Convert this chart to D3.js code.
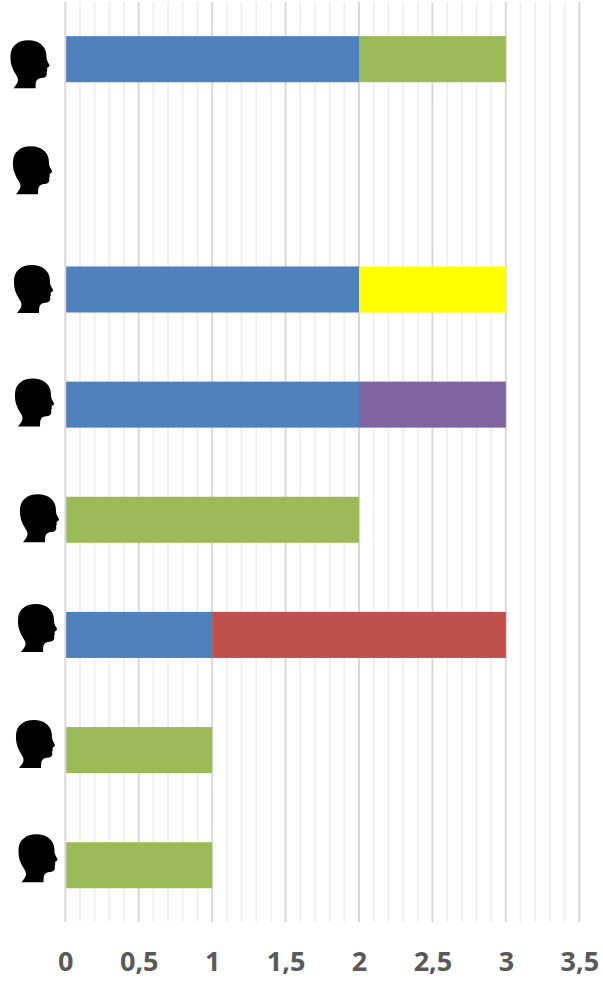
<!DOCTYPE html>
<html>
<head>
<meta charset="utf-8">
<script src="https://cdn.jsdelivr.net/npm/d3@7"></script>
<style>
html,body{margin:0;padding:0;background:#fff;overflow:hidden}
svg{display:block}
</style>
</head>
<body>
<svg id="chart" width="603" height="982"></svg>
<script>
const rows = ["A","B","C","D","E","F","G","H"];
const seriesNames = ["blue","green","yellow","purple","red"];
const blue   = [2,0,2,2,0,1,0,0];
const green  = [1,0,0,0,2,0,1,1];
const yellow = [0,0,1,0,0,0,0,0];
const purple = [0,0,0,1,0,0,0,0];
const red    = [0,0,0,0,0,2,0,0];
const seriesColors = ["#4F81BD","#9BBB59","#FFFF00","#8064A2","#C0504D"];
const majorTicks = [0,0.5,1,1.5,2,2.5,3,3.5];
const minorTicks = d3.range(0,36).map(d=>d/10).filter(d=>Math.round(d*10)%5!==0);
const headOffsetX = [10.5,13,14,15,20,18,16,18.5];
const headOffsetY = [4,-5,-1.5,-3,-2.5,-8,-7,-8];

const table = rows.map((r,i)=>({row:r,blue:blue[i],green:green[i],yellow:yellow[i],purple:purple[i],red:red[i]}));
const svg = d3.select("#chart");
const x = d3.scaleLinear().domain([0,3.5]).range([65.3,579.3]);
const y = d3.scaleBand().domain(rows).range([1.6,922.8]).paddingInner(0.6).paddingOuter(0.3);

const gridTop = 2, gridBottom = 922;
svg.append("g").selectAll("line").data(minorTicks).join("line")
  .attr("x1",d=>x(d)).attr("x2",d=>x(d)).attr("y1",gridTop).attr("y2",gridBottom)
  .attr("stroke","#f0f0f0").attr("stroke-width",2);
svg.append("g").selectAll("line").data(majorTicks).join("line")
  .attr("x1",d=>x(d)).attr("x2",d=>x(d)).attr("y1",gridTop).attr("y2",gridBottom)
  .attr("stroke","#d9d9d9").attr("stroke-width",2);

const stacked = d3.stack().keys(seriesNames)(table);
svg.append("g").selectAll("g").data(stacked).join("g")
  .attr("fill",(d,i)=>seriesColors[i])
  .selectAll("rect").data(d=>d.filter(p=>p[1]>p[0])).join("rect")
  .attr("x",d=>x(d[0])+(d[0]===0?0.9:0)).attr("width",d=>x(d[1])-x(d[0])-(d[0]===0?0.9:0))
  .attr("y",d=>y(d.data.row)).attr("height",y.bandwidth());

const headPath = "M3 48 C5 45 7.5 43 7.5 40 C7.5 36 4.5 34 2.5 29 C0.5 25 -0.3 20 0 15 C0.5 6 7 0 18 0 C28 0 34 5 35.5 12 C36.2 16 35.8 18 36.5 20 C37.5 22.5 39 24 39 25.5 C38.5 27 36.8 27 36.5 28 C37 29.5 36.8 31 36 32 C36.5 33.5 36.5 35 35.5 36 C34.5 37.5 32 37.5 29.5 38 C26.5 38.5 25.5 41 25.2 43 L25 48 Z";
svg.append("g").selectAll("path").data(rows).join("path")
  .attr("d",headPath).attr("fill","#000")
  .attr("transform",(d,i)=>`translate(${headOffsetX[i]},${y(d)+headOffsetY[i]})`);

const axis = d3.axisBottom(x).tickValues(majorTicks).tickSize(0).tickPadding(0)
  .tickFormat(d=>String(d).replace(".",","));
const ax = svg.append("g").attr("transform","translate(0,952)").call(axis);
ax.select(".domain").remove();
ax.selectAll("text").attr("font-family","'Open Sans',sans-serif")
  .attr("font-weight",700).attr("font-size",27).attr("fill","#595959");
</script>
</body>
</html>
